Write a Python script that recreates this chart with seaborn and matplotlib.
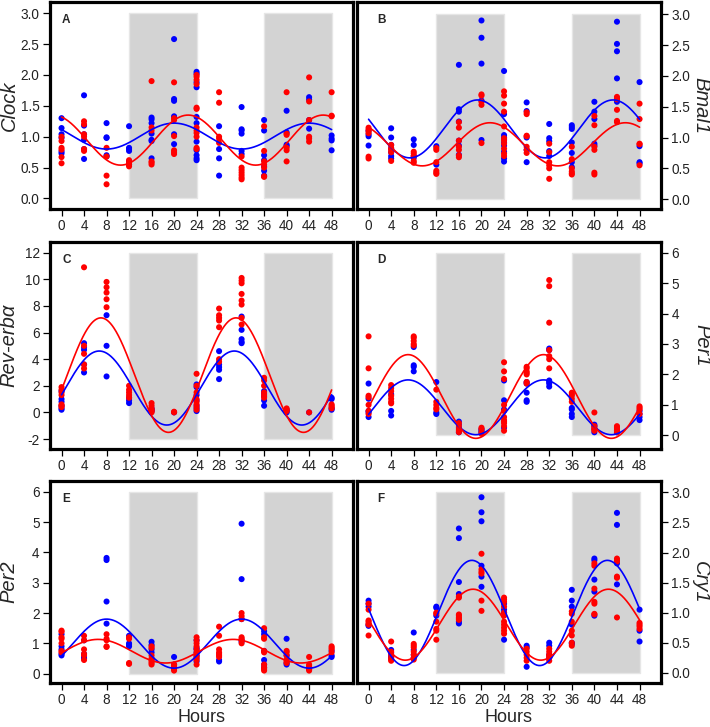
import numpy as np
import pandas as pd
import seaborn as sns
import matplotlib.pyplot as plt

sns.set_style("ticks")
plt.rcParams['font.family'] = ['Liberation Sans', 'DejaVu Sans']

hours = [0, 4, 8, 12, 16, 20, 24, 28, 32, 36, 40, 44, 48]
dark_phases = [(12, 24), (36, 48)]

# ---- measured points, hour -> values (blue group / red group) ----
clock_blue = {0: [1.30, 1.14, 1.04, 0.98, 0.76, 0.73], 4: [1.67, 1.18, 1.04, 0.95, 0.80, 0.64],
              8: [1.22, 0.99, 0.98, 0.70, 0.68], 12: [1.17, 0.82, 0.80, 0.77, 0.60, 0.55],
              16: [1.31, 1.28, 1.22, 1.05, 0.95, 0.93, 0.65], 20: [2.58, 1.61, 1.58, 1.33, 1.04, 0.88],
              24: [2.05, 2.02, 1.88, 1.80, 1.32, 1.22, 0.92, 0.78, 0.70, 0.65, 0.62],
              28: [1.17, 0.80, 0.65, 0.37], 32: [1.48, 1.12, 1.10, 1.05, 0.77, 0.72],
              36: [1.27, 1.10, 0.70, 0.62, 0.52, 0.45, 0.37], 40: [1.42, 1.07, 0.87, 0.85],
              44: [1.64, 1.60, 1.27, 1.13], 48: [1.02, 0.97, 0.94, 0.78]}
clock_red = {0: [1.00, 0.93, 0.82, 0.79, 0.67, 0.57], 4: [1.25, 1.20, 1.04, 1.00, 0.80, 0.77],
             8: [0.82, 0.68, 0.37, 0.23], 12: [0.62, 0.58, 0.55, 0.52],
             16: [1.90, 1.15, 1.10, 0.60, 0.58, 0.55], 20: [1.88, 1.30, 1.27, 1.01, 0.78, 0.75, 0.72],
             24: [2.00, 1.97, 1.92, 1.85, 1.47, 1.45, 1.15, 1.10, 1.06, 1.00, 0.82, 0.80],
             28: [1.72, 1.55, 1.00, 0.97, 0.90], 32: [0.68, 0.50, 0.46, 0.42, 0.38, 0.34, 0.31],
             36: [1.17, 0.77, 0.60, 0.55, 0.50, 0.36, 0.35], 40: [1.72, 1.05, 1.03, 0.82, 0.78, 0.60],
             44: [1.96, 1.57, 1.27, 1.00, 0.97, 0.92], 48: [1.72, 1.34, 1.33]}

bmal1_blue = {0: [1.11, 1.05, 1.02, 0.87], 4: [1.15, 1.00, 0.88, 0.82, 0.76, 0.70, 0.66],
              8: [0.97, 0.88, 0.70, 0.67], 12: [0.86, 0.56],
              16: [2.18, 1.46, 1.42, 1.26, 0.95, 0.87, 0.72], 20: [2.90, 2.62, 2.20, 1.60, 0.96],
              24: [2.08, 1.38, 1.04, 1.00, 0.97, 0.92, 0.87, 0.77, 0.66, 0.61],
              28: [1.57, 1.43, 1.00, 0.80, 0.60], 32: [1.22, 0.99, 0.94, 0.78, 0.70],
              36: [1.20, 1.17, 1.14, 0.92, 0.75, 0.60, 0.52], 40: [1.58, 1.42, 1.30, 0.90, 0.87],
              44: [2.88, 2.52, 2.40, 1.96, 1.63, 1.58], 48: [1.90, 0.86, 0.60, 0.58]}
bmal1_red = {0: [1.16, 1.13, 1.10, 1.07, 0.69, 0.66], 4: [0.88, 0.83, 0.80, 0.76, 0.62],
             8: [0.77, 0.74, 0.70, 0.62, 0.59], 12: [0.83, 0.80, 0.60, 0.46, 0.43, 0.41],
             16: [1.25, 1.16, 0.95, 0.85, 0.80, 0.71, 0.68], 20: [1.70, 1.68, 1.58, 1.53, 0.91],
             24: [1.75, 1.68, 1.55, 1.42, 1.18, 0.99, 0.95, 0.90, 0.82, 0.74, 0.70],
             28: [1.41, 1.38, 1.03, 1.02, 0.85, 0.80, 0.75], 32: [0.90, 0.76, 0.60, 0.55, 0.50, 0.33],
             36: [0.85, 0.65, 0.50, 0.45, 0.42, 0.40], 40: [1.35, 1.20, 0.85, 0.80, 0.43, 0.40],
             44: [1.66, 1.62, 1.45, 1.27, 1.25], 48: [1.55, 1.30, 0.90, 0.89, 0.55]}

reverb_blue = {0: [1.6, 1.0, 0.8, 0.5, 0.3, 0.2], 4: [5.2, 4.9, 4.7, 3.6, 3.0], 8: [7.3, 5.0, 2.7],
               12: [1.1, 0.9, 0.7], 16: [0.3, 0.2, 0.1], 20: [0.0],
               24: [2.1, 1.9, 1.3, 0.9, 0.5, 0.3, 0.1], 28: [4.6, 3.6, 3.4, 3.2, 2.5],
               32: [7.2, 6.2, 5.5, 5.3, 5.2], 36: [1.6, 1.4, 1.2, 0.9, 0.5], 40: [0.2, 0.1, 0.0],
               44: [0.0], 48: [1.1, 1.0, 0.3, 0.2]}
reverb_red = {0: [1.9, 1.7, 1.5, 1.3, 0.6, 0.5, 0.4], 4: [10.9, 5.0, 4.4, 3.6, 3.3],
              8: [9.8, 9.4, 9.0, 8.5, 7.9], 12: [2.0, 1.7, 1.5, 1.3, 1.1],
              16: [0.7, 0.5, 0.3, 0.2, 0.1, 0.0], 20: [0.05, 0.0],
              24: [2.9, 2.0, 1.5, 1.0, 0.8, 0.6, 0.4, 0.2], 28: [7.8, 7.3, 7.1, 6.9, 6.4, 4.0, 3.8],
              32: [10.1, 9.9, 9.7, 8.9, 8.4, 8.1, 7.1, 6.6], 36: [2.6, 2.4, 2.0, 1.5, 1.3, 1.1],
              40: [0.3, 0.2, 0.1], 44: [0.0], 48: [0.6, 0.5, 0.4, 0.3]}

per1_blue = {0: [1.7, 1.2, 0.8, 0.75, 0.6], 4: [1.35, 0.8, 0.65], 8: [2.9, 2.3, 2.25, 2.1],
             12: [1.75, 0.75, 0.7], 16: [0.45, 0.35, 0.25, 0.1], 20: [0.2, 0.15, 0.1],
             24: [1.8, 1.15, 0.85, 0.25], 28: [1.75, 1.7, 1.4, 1.15, 1.1],
             32: [2.85, 2.8, 1.8, 1.75, 1.7, 1.6], 36: [0.9, 0.85, 0.7, 0.6],
             40: [0.35, 0.3, 0.2, 0.1], 44: [0.15, 0.1], 48: [0.8, 0.7, 0.6, 0.5]}
per1_red = {0: [3.25, 2.2, 1.3, 1.25, 1.0, 0.8, 0.7], 4: [1.65, 1.55, 1.45, 1.3, 1.2, 1.1, 1.05],
            8: [3.25, 3.2, 3.1, 3.0, 2.95], 12: [1.5, 1.1, 1.0, 0.9, 0.85],
            16: [0.4, 0.3, 0.2, 0.15, 0.1], 20: [0.25, 0.2, 0.1, 0.05],
            24: [2.4, 2.1, 1.85, 1.0, 0.8, 0.6, 0.5, 0.45, 0.4, 0.3, 0.15],
            28: [2.25, 2.2, 2.1, 2.05, 2.0, 1.75, 1.7], 32: [5.1, 4.9, 3.7, 2.8, 2.6, 2.5, 2.2],
            36: [1.4, 1.35, 1.3, 1.2, 1.1], 40: [0.75, 0.3, 0.25, 0.2, 0.15],
            44: [0.3, 0.25, 0.2, 0.15, 0.1], 48: [0.95, 0.9, 0.85, 0.7]}

per2_blue = {0: [1.3, 0.9, 0.8, 0.65, 0.6], 4: [1.1, 0.65, 0.55, 0.5], 8: [3.82, 3.75, 2.38, 1.65],
             12: [1.25, 1.0, 0.95, 0.9], 16: [1.05, 0.95, 0.8, 0.7], 20: [0.55, 0.3, 0.2],
             24: [1.1, 0.85, 0.8, 0.7, 0.6, 0.5, 0.4], 28: [0.45, 0.4],
             32: [4.95, 3.12, 1.8, 1.1, 1.05], 36: [1.4, 1.3, 0.75, 0.45, 0.3, 0.2],
             40: [1.15, 0.6, 0.35, 0.3], 44: [0.2, 0.15], 48: [0.75, 0.6, 0.55]}
per2_red = {0: [1.42, 1.38, 1.2, 1.15, 1.0, 0.75, 0.7], 4: [1.25, 1.1, 0.8, 0.65, 0.6, 0.45],
            8: [1.3, 1.15, 1.1, 0.9, 0.88], 12: [1.2, 1.15, 0.35, 0.32],
            16: [0.9, 0.85, 0.6, 0.5, 0.45, 0.4, 0.35, 0.3], 20: [0.3, 0.25, 0.2, 0.15, 0.1],
            24: [1.2, 1.1, 1.0, 0.9, 0.8, 0.7, 0.6, 0.55, 0.45, 0.3],
            28: [1.55, 1.25, 0.8, 0.7, 0.65, 0.6, 0.55], 32: [2.0, 1.9, 1.8, 1.2, 1.15, 1.1, 1.0],
            36: [1.5, 1.2, 1.15, 0.75, 0.7, 0.3, 0.2, 0.15, 0.1], 40: [0.75, 0.7, 0.6, 0.45, 0.4, 0.35],
            44: [0.55, 0.3, 0.25, 0.2, 0.15, 0.1], 48: [0.9, 0.85, 0.8, 0.7]}

cry1_blue = {0: [1.2, 1.15, 1.1, 0.8, 0.78], 4: [0.38, 0.33, 0.28, 0.25], 8: [0.67, 0.38, 0.3, 0.25],
             12: [1.1, 1.08, 0.95], 16: [2.4, 2.24, 1.51, 1.31, 0.85, 0.82],
             20: [2.92, 2.67, 2.52, 1.78, 1.6, 1.43], 24: [1.15, 1.05, 1.0, 0.55], 28: [0.45, 0.42, 0.1],
             32: [0.5, 0.45, 0.3, 0.25], 36: [1.38, 1.2, 1.1, 0.8, 0.5, 0.48],
             40: [1.9, 1.87, 1.55, 1.35, 0.95], 44: [2.66, 2.46, 1.82, 1.47], 48: [1.05, 0.7, 0.52]}
cry1_red = {0: [1.15, 1.05, 0.87, 0.85, 0.82, 0.8, 0.62], 4: [0.52, 0.35, 0.3, 0.25, 0.22, 0.2],
            8: [0.48, 0.45, 0.42, 0.35, 0.3, 0.25, 0.22], 12: [1.0, 0.98, 0.85, 0.73, 0.7, 0.55],
            16: [1.27, 1.25, 0.97, 0.95, 0.92, 0.9, 0.88], 20: [1.98, 1.72, 1.68, 1.65, 1.2, 1.03],
            24: [1.25, 1.22, 1.18, 1.1, 1.0, 0.95, 0.85, 0.8, 0.75, 0.7, 0.65],
            28: [0.4, 0.35, 0.3, 0.25, 0.2], 32: [0.4, 0.35, 0.3, 0.28, 0.25, 0.2],
            36: [1.02, 0.98, 0.85, 0.7, 0.62, 0.5, 0.45], 40: [1.82, 1.78, 1.4, 1.18, 1.15, 0.98, 0.97],
            44: [1.9, 1.87, 1.85, 1.6, 1.58, 0.92], 48: [0.83, 0.8, 0.77, 0.73]}

# cosinor fits: (mesor, amplitude, peak hour), 24 h period
clock_fit = {"blue": (1.01, 0.21, 20.0), "red": (0.945, 0.405, 22.5)}
bmal1_fit = {"blue": (1.14, 0.47, 19.3), "red": (0.89, 0.35, 21.5)}
reverb_fit = {"blue": (1.83, 2.78, 6.7), "red": (2.8, 4.3, 7.0)}
per1_fit = {"blue": (0.92, 0.90, 7.0), "red": (1.275, 1.375, 7.0)}
per2_fit = {"blue": (0.99, 0.81, 8.0), "red": (0.74, 0.39, 6.5)}
cry1_fit = {"blue": (0.995, 0.875, 18.3), "red": (0.80, 0.59, 18.5)}

colors = {"blue": "#0000ff", "red": "#ff0000"}


def to_long(d, group):
    rows = [(h, v, group) for h, vals in d.items() for v in vals]
    return pd.DataFrame(rows, columns=["hour", "value", "group"])


def fit_curve(fit):
    t = np.linspace(0, 48, 481)
    parts = []
    for g, (m, a, p) in fit.items():
        parts.append(pd.DataFrame({"hour": t, "value": m + a * np.cos(2 * np.pi * (t - p) / 24), "group": g}))
    return pd.concat(parts)


panels = [
    ("A", "Clock", clock_blue, clock_red, clock_fit, [0, 0.5, 1, 1.5, 2, 2.5, 3], (-0.17, 3.18), "left"),
    ("B", "Bmal1", bmal1_blue, bmal1_red, bmal1_fit, [0, 0.5, 1, 1.5, 2, 2.5, 3], (-0.16, 3.2), "right"),
    ("C", "Rev-erbα", reverb_blue, reverb_red, reverb_fit, [-2, 0, 2, 4, 6, 8, 10, 12], (-2.75, 12.8), "left"),
    ("D", "Per1", per1_blue, per1_red, per1_fit, [0, 1, 2, 3, 4, 5, 6], (-0.45, 6.35), "right"),
    ("E", "Per2", per2_blue, per2_red, per2_fit, [0, 1, 2, 3, 4, 5, 6], (-0.31, 6.36), "left"),
    ("F", "Cry1", cry1_blue, cry1_red, cry1_fit, [0, 0.5, 1, 1.5, 2, 2.5, 3], (-0.17, 3.19), "right"),
]

W, H = 710, 727
fig = plt.figure(figsize=(W / 100, H / 100), dpi=100)
row_px = [(2, 209), (242, 449), (481, 683)]
col_px = [(50, 353), (357, 661)]
label_x = {"A": -0.135, "C": -0.135, "E": -0.135, "B": 1.13, "D": 1.135, "F": 1.128}

for i, (letter, gene, blue, red, fit, yticks, ylim, side) in enumerate(panels):
    r, c = i // 2, i % 2
    top, bot = row_px[r]
    left, right = col_px[c]
    ax = fig.add_axes([left / W, (H - bot) / H, (right - left) / W, (bot - top) / H])

    for a, b in dark_phases:
        ax.fill_between([a, b], yticks[0], yticks[-1], facecolor="#d3d3d3",
                        edgecolor="#e6e6e6", linewidth=1.0, zorder=0)

    pts = pd.concat([to_long(blue, "blue"), to_long(red, "red")], ignore_index=True)
    sns.scatterplot(data=pts, x="hour", y="value", hue="group", palette=colors,
                    s=19, linewidth=0, legend=False, ax=ax, zorder=2)
    sns.lineplot(data=fit_curve(fit), x="hour", y="value", hue="group", palette=colors,
                 estimator=None, linewidth=1.2, legend=False, ax=ax, zorder=3)

    ax.set_xlim(-2.05, 51.8)
    ax.set_ylim(*ylim)
    ax.set_xticks(hours)
    ax.set_yticks(yticks)
    if max(yticks) <= 3:
        ax.set_yticklabels([f"{v:.1f}" for v in yticks])
    else:
        ax.set_yticklabels([str(v) for v in yticks])
    for s in ax.spines.values():
        s.set_visible(True)
        s.set_linewidth(2.3)
        s.set_color("black")
    ax.tick_params(direction="out", length=5, width=0.9, labelsize=9.8, pad=2.5,
                   colors="black", labelcolor="#222222")
    if side == "right":
        ax.yaxis.tick_right()
        ax.yaxis.set_label_position("right")
        ax.set_ylabel(gene, style="italic", fontsize=14.5, rotation=270, va="center")
    else:
        ax.set_ylabel(gene, style="italic", fontsize=14.5, rotation=90, va="center")
    ax.yaxis.set_label_coords(label_x[letter], 0.5)
    if r == 2:
        ax.set_xlabel("Hours", fontsize=13, labelpad=1.5)
    else:
        ax.set_xlabel("")
    ax.text(0.04 if side == "left" else 0.065, 0.94, letter, transform=ax.transAxes,
            fontsize=8.5, fontweight="bold", va="top", ha="left")

fig.savefig("out.png", dpi=100)
